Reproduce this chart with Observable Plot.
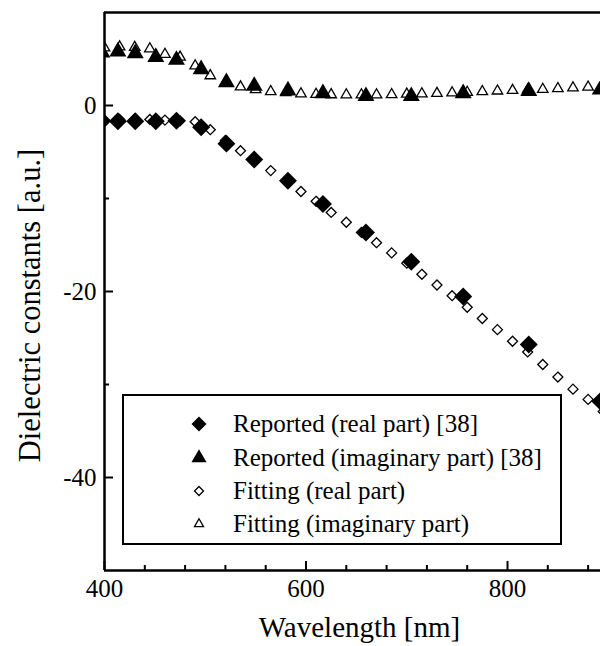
<!DOCTYPE html>
<html><head><meta charset="utf-8">
<script src="https://cdn.jsdelivr.net/npm/d3@7"></script>
<script src="https://cdn.jsdelivr.net/npm/@observablehq/plot@0.6"></script>
<style>
html,body{margin:0;padding:0;background:#fff;overflow:hidden;}
#wrap{position:relative;width:600px;height:646px;}
#legend{position:absolute;left:122px;top:394px;width:440px;height:151px;box-sizing:border-box;border:2px solid #000;background:#fff;font-family:"Liberation Serif","Times New Roman",serif;font-size:25px;color:#000;}
.row{position:absolute;left:0;height:30px;line-height:30px;white-space:nowrap;}
.row svg{position:absolute;left:65px;top:5px;}
.row span{position:absolute;left:109px;top:0;}
</style>
</head><body><div id="wrap"></div>
<script>
// Reported data [38]
const reportedWl = [397.4, 413.3, 430.5, 450.9, 471.4, 495.9, 521.0, 548.6, 582.1, 616.8, 659.5, 704.5, 756.0, 821.1, 892.0];
const reportedReal = [-1.7, -1.7, -1.7, -1.7, -1.65, -2.35, -4.1, -5.8, -8.1, -10.6, -13.65, -16.8, -20.55, -25.7, -31.8];
const reportedImag = [5.7, 5.8, 5.6, 5.2, 4.9, 3.9, 2.5, 2.1, 1.6, 1.3, 1.0, 1.0, 1.3, 1.55, 1.7];
// Fitting
const fitWl = [400, 415, 430, 445, 460, 475, 490, 505, 520, 535, 550, 565, 580, 595, 610, 625, 640, 655, 670, 685, 700, 715, 730, 745, 760, 775, 790, 805, 820, 835, 850, 865, 880, 895];
const fitReal = [-1.55, -1.5, -1.45, -1.5, -1.57, -1.65, -1.75, -2.6, -3.75, -4.86, -5.95, -7.0, -8.1, -9.25, -10.3, -11.5, -12.55, -13.65, -14.75, -15.85, -16.95, -18.15, -19.3, -20.45, -21.7, -22.9, -24.1, -25.35, -26.5, -27.85, -29.2, -30.5, -31.6, -32.9];
const fitImag = [6.2, 6.3, 6.25, 6.1, 5.5, 5.2, 4.27, 3.2, 2.5, 2.0, 1.7, 1.5, 1.38, 1.26, 1.2, 1.16, 1.15, 1.15, 1.15, 1.18, 1.22, 1.26, 1.3, 1.36, 1.42, 1.5, 1.56, 1.62, 1.68, 1.74, 1.82, 1.9, 1.98, 2.05];
// Axes
const xTicks = [400, 600, 800];
const xMinorTicks = [440, 480, 520, 560, 640, 680, 720, 760, 840, 880];
const yTicks = [0, -20, -40];
const yMinorTicks = [-10, -30];
const xTitle = "Wavelength [nm]";
const yTitle = "Dielectric constants [a.u.]";
const legendLabels = ["Reported (real part) [38]", "Reported (imaginary part) [38]", "Fitting (real part)", "Fitting (imaginary part)"];

const rep = reportedWl.map((w, i) => ({w, re: reportedReal[i], im: reportedImag[i]}));
const fit = fitWl.map((w, i) => ({w, re: fitReal[i], im: fitImag[i]}));

const W = 600, H = 646, mL = 104, mT = 12, mB = 76, mR = 0;
const frameW = W - mL - mR, frameH = H - mT - mB;
const font = "Liberation Serif, Times New Roman, serif";

const chart = Plot.plot({
  width: W, height: H,
  marginLeft: mL, marginTop: mT, marginBottom: mB, marginRight: mR,
  x: {domain: [400, 892.3], axis: null},
  y: {domain: [-50, 10], axis: null},
  style: {fontFamily: font, background: "white", color: "black"},
  marks: [
    Plot.dot(fit, {x: "w", y: "im", symbol: "triangle", r: 3.9, fill: "white", stroke: "black", strokeWidth: 1.3, clip: true}),
    Plot.dot(fit, {x: "w", y: "re", symbol: "diamond2", r: 4.5, fill: "white", stroke: "black", strokeWidth: 1.3, clip: true}),
    Plot.dot(rep, {x: "w", y: "im", symbol: "triangle", r: 6.3, fill: "black", stroke: "none", clip: true}),
    Plot.dot(rep, {x: "w", y: "re", symbol: "diamond2", r: 8.1, fill: "black", stroke: "none", clip: true}),
    Plot.ruleX(xTicks, {x: d => d, insetTop: frameH - 9, strokeWidth: 2}),
    Plot.ruleX(xMinorTicks, {x: d => d, insetTop: frameH - 5, strokeWidth: 2}),
    Plot.ruleY(yTicks, {y: d => d, insetRight: frameW - 9, strokeWidth: 2}),
    Plot.ruleY(yMinorTicks, {y: d => d, insetRight: frameW - 5, strokeWidth: 2}),
    Plot.ruleX([400], {strokeWidth: 2.5}),
    Plot.ruleY([-50], {strokeWidth: 2.5}),
    Plot.ruleY([10], {strokeWidth: 2.5}),
    Plot.text(xTicks, {x: d => d, text: d => String(d), frameAnchor: "bottom", dy: 18, fontSize: 25, fill: "black", lineAnchor: "middle", textAnchor: "middle"}),
    Plot.text(yTicks, {y: d => d, text: d => String(d), frameAnchor: "left", dx: -8, textAnchor: "end", fontSize: 25, fill: "black", lineAnchor: "middle"}),
    Plot.text([xTitle], {text: d => d, frameAnchor: "bottom", dx: 7, dy: 57, fontSize: 29, fill: "black", lineAnchor: "middle", textAnchor: "middle"}),
    Plot.text([yTitle], {text: d => d, frameAnchor: "left", dx: -74, dy: 14, rotate: -90, fontSize: 30.5, fill: "black", lineAnchor: "middle", textAnchor: "middle"})
  ]
});
const wrap = document.getElementById("wrap");
wrap.appendChild(chart);

// Legend (overlay inside the plot frame)
const legend = document.createElement("div");
legend.id = "legend";
const legendSymbols = [
  {type: d3.symbolDiamond2, r: 6.75, fill: "black", stroke: "none"},
  {type: d3.symbolTriangle, r: 5.6, fill: "black", stroke: "none"},
  {type: d3.symbolDiamond2, r: 4.05, fill: "white", stroke: "black"},
  {type: d3.symbolTriangle, r: 3.35, fill: "white", stroke: "black"}
];
const rowCenters = [28, 62, 95, 128];
legendLabels.forEach((label, i) => {
  const row = document.createElement("div");
  row.className = "row";
  row.style.top = (rowCenters[i] - 15) + "px";
  const s = legendSymbols[i];
  const path = d3.symbol(s.type, Math.PI * s.r * s.r)();
  row.innerHTML = `<svg width="20" height="20" viewBox="-10 -10 20 20"><path d="${path}" fill="${s.fill}" stroke="${s.stroke}" stroke-width="1.3"/></svg><span>${label}</span>`;
  legend.appendChild(row);
});
wrap.appendChild(legend);
</script>
</body></html>
